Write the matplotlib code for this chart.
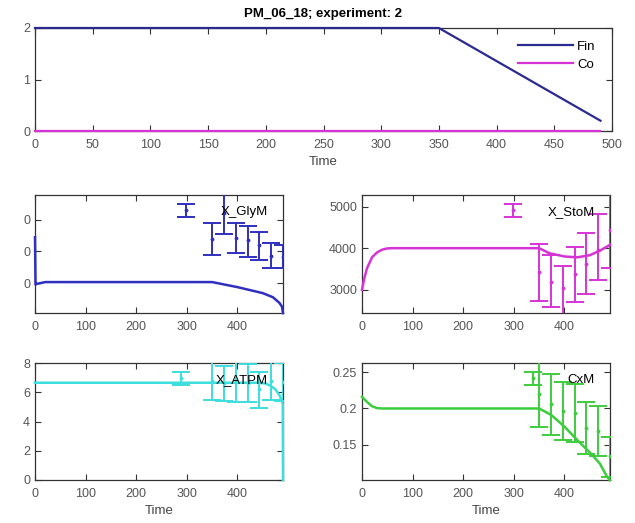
import matplotlib
matplotlib.use('Agg')
import matplotlib.pyplot as plt

plt.rcParams['font.family'] = ['Liberation Sans', 'DejaVu Sans']

# ---------------- data ----------------
title = "PM_06_18; experiment: 2"

fin_t = [0, 350, 490]
fin_v = [2, 2, 0.2]
co_t = [0, 490]
co_v = [0, 0]

err_t = [350, 373, 397, 420, 443, 467, 490]

gly_t = [0, 1, 3, 20, 350, 400, 450, 470, 483, 488, 490]
gly_v = [245, 95, 97, 103, 103, 87, 68, 55, 37, 25, 5]
gly_c = [240, 322, 243, 237, 221, 186, 183]
gly_lo = [189, 256, 195, 183, 173, 148, 148]
gly_hi = [290, 385, 290, 281, 262, 227, 221]
gly_ticks = [100, 200, 300]
gly_ticklabels = ['0', '0', '0']

sto_t = [0, 5, 10, 20, 30, 40, 50, 60, 350, 370, 400, 425, 450, 470, 490]
sto_v = [3000, 3300, 3520, 3784, 3900, 3965, 3995, 4000, 4000, 3880, 3800, 3780, 3830, 3940, 4080]
sto_c = [3430, 3190, 3030, 3390, 3630, 3950, 4430]
sto_lo = [2740, 2580, 2390, 2710, 2890, 3230, 3530]
sto_hi = [4090, 3830, 3570, 4030, 4370, 4815, 5330]

atp_t = [0, 440, 455, 465, 475, 483, 488, 489.5, 490]
atp_v = [6.65, 6.65, 6.6, 6.45, 6.2, 5.8, 5.4, 5.2, 0]
atp_c = [6.8, 6.6, 6.7, 6.6, 6.2, 6.8, 6.7]
atp_lo = [5.5, 5.4, 5.3, 5.3, 4.9, 5.5, 5.4]
atp_hi = [8.1, 7.8, 8.1, 7.9, 7.4, 8.1, 8.0]

cx_t = [0, 10, 20, 30, 40, 350, 374, 400, 426, 452, 470, 484, 490]
cx_v = [0.216, 0.209, 0.203, 0.2005, 0.2, 0.2, 0.191, 0.175, 0.156, 0.138, 0.124, 0.106, 0.101]
cx_c = [0.22, 0.206, 0.197, 0.194, 0.173, 0.169, 0.134]
cx_lo = [0.175, 0.163, 0.157, 0.154, 0.137, 0.134, 0.106]
cx_hi = [0.265, 0.248, 0.237, 0.234, 0.209, 0.203, 0.161]

# ---------------- style ----------------
W, H = 635, 523
fig = plt.figure(figsize=(W / 100, H / 100), dpi=100)

def px_axes(l, r, t, b):
    return fig.add_axes([l / W, (H - b) / H, (r - l) / W, (b - t) / H])

def style(ax):
    ax.tick_params(direction='in', top=True, right=True, length=4, width=0.8,
                   color='#333333', labelcolor='#555555', labelsize=9)
    ax.tick_params(axis='x', pad=5.5)
    ax.tick_params(axis='y', pad=3.5)
    for sp in ax.spines.values():
        sp.set_color('#333333')
        sp.set_linewidth(0.9)
        sp.set_zorder(2)

BLUE_DARK = '#2a2a90'
MAG = '#d633d6'
BLUE = '#2f2fc0'
CYAN = '#3ddede'
GREEN = '#3dcc3d'

# top panel
ax0 = px_axes(35, 612, 28, 131)
ax0.plot(fin_t, fin_v, color=BLUE_DARK, lw=1.6, label='Fin', zorder=3, clip_on=False)
ax0.plot(co_t, co_v, color=MAG, lw=1.6, label='Co', zorder=3, clip_on=False)
ax0.set_xlim(0, 500)
ax0.set_ylim(0, 2)
ax0.set_xticks(range(0, 501, 50))
ax0.set_yticks([0, 1, 2])
style(ax0)
ax0.set_xlabel('Time', fontsize=9.5, color='#444444', labelpad=4)
ax0.set_title(title, fontsize=9.5, fontweight='bold', pad=8)
ax0.legend(loc='upper right', bbox_to_anchor=(0.972, 0.88), frameon=False,
           fontsize=9.5, borderpad=0, borderaxespad=0, handlelength=4.2,
           handletextpad=0.3, labelspacing=0.45)

def sub(l, r, t, b, lt, lv, c, lo, hi, color, label, xlim, ylim, yt=None, ytl=None, xlab=False):
    ax = px_axes(l, r, t, b)
    ax.plot(lt, lv, color=color, lw=1.8, zorder=3, clip_on=False)
    yerr = [[ci - li for ci, li in zip(c, lo)], [hi_ - ci for ci, hi_ in zip(c, hi)]]
    eb = ax.errorbar(err_t, c, yerr=yerr, fmt='.', color=color, ms=3.5,
                     elinewidth=1.4, capsize=6.5, capthick=1.4, label=label, zorder=4)
    ax.set_xlim(*xlim)
    ax.set_ylim(*ylim)
    ax.set_xticks([0, 100, 200, 300, 400])
    if yt is not None:
        ax.set_yticks(yt)
    if ytl is not None:
        ax.set_yticklabels(ytl)
    style(ax)
    ax.legend(handles=[eb], loc='upper right', bbox_to_anchor=(0.94, 0.91),
              frameon=False, fontsize=9.5, borderpad=0, borderaxespad=0,
              handlelength=2.5, handletextpad=1.4)
    if xlab:
        ax.set_xlabel('Time', fontsize=9.5, color='#444444', labelpad=4)
    return ax

sub(35, 283, 195, 313, gly_t, gly_v, gly_c, gly_lo, gly_hi, BLUE, 'X_GlyM',
    (0, 490), (5, 379), gly_ticks, gly_ticklabels)
sub(362, 610, 195, 313, sto_t, sto_v, sto_c, sto_lo, sto_hi, MAG, 'X_StoM',
    (0, 490), (2440, 5280), [3000, 4000, 5000])
sub(35, 283, 363, 480, atp_t, atp_v, atp_c, atp_lo, atp_hi, CYAN, 'X_ATPM',
    (0, 490), (0, 8), [0, 2, 4, 6, 8], xlab=True)
sub(362, 610, 363, 480, cx_t, cx_v, cx_c, cx_lo, cx_hi, GREEN, 'CxM',
    (0, 490), (0.1014, 0.2627), [0.15, 0.2, 0.25], ['0.15', '0.2', '0.25'], xlab=True)

fig.savefig('out.png', dpi=100)
